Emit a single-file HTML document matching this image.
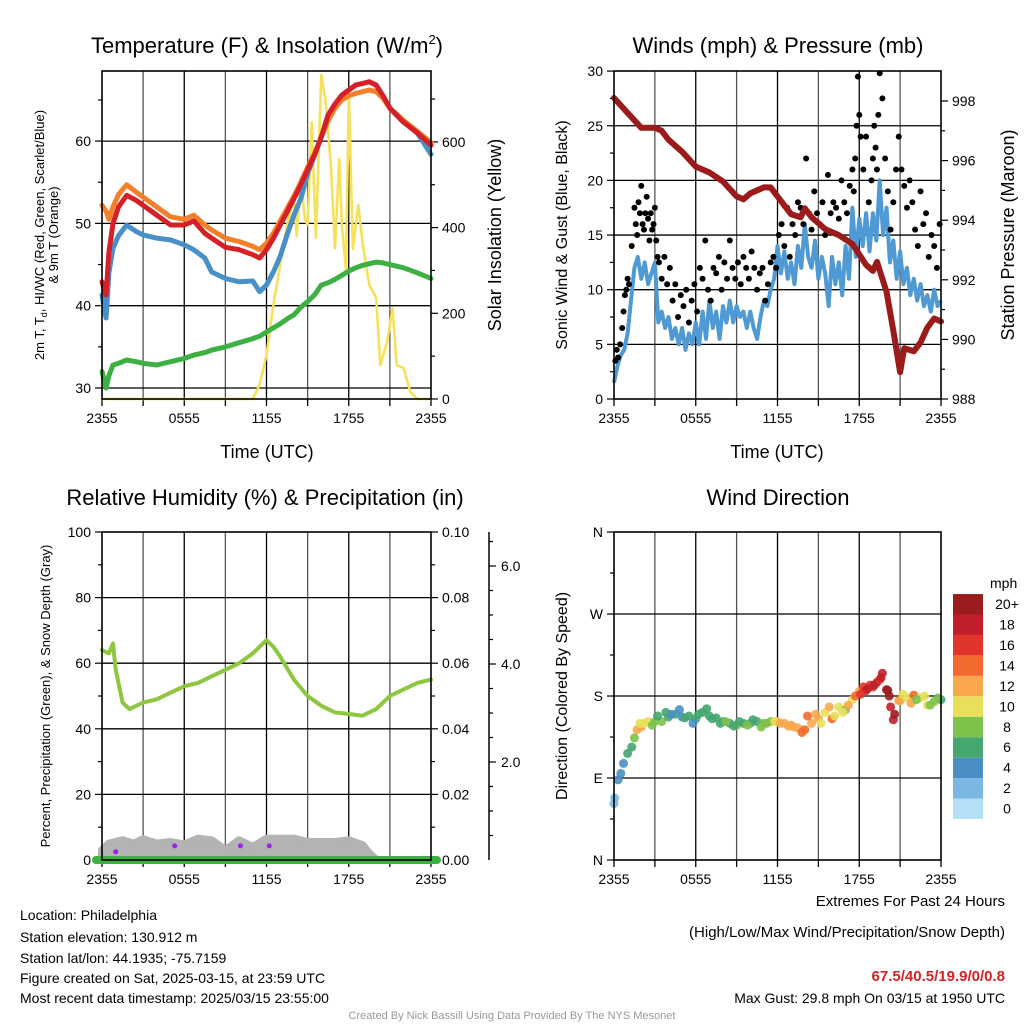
<!DOCTYPE html>
<html><head><meta charset="utf-8"><style>
body{margin:0;background:#fff}
svg{display:block;font-family:"Liberation Sans",sans-serif}
</style></head><body>
<svg id="chart" width="1024" height="1024" viewBox="0 0 1024 1024">
<rect width="1024" height="1024" fill="#fff"/>
<g id="layers"></g>
<g font-size="22" text-anchor="middle" fill="#000">
<text x="267" y="53">Temperature (F) &amp; Insolation (W/m<tspan font-size="13" dy="-9">2</tspan><tspan dy="9">)</tspan></text>
<text x="778" y="53">Winds (mph) &amp; Pressure (mb)</text>
<text x="265" y="505">Relative Humidity (%) &amp; Precipitation (in)</text>
<text x="778" y="505">Wind Direction</text>
</g>
<g font-size="18" text-anchor="middle">
<text x="267" y="458">Time (UTC)</text>
<text x="777" y="458">Time (UTC)</text>
<text transform="translate(501,235) rotate(-90)">Solar Insolation (Yellow)</text>
<text transform="translate(1014,235) rotate(-90)">Station Pressure (Maroon)</text>
</g>
<text transform="translate(567,235) rotate(-90)" font-size="16" text-anchor="middle">Sonic Wind &amp; Gust (Blue, Black)</text>
<text transform="translate(567,696) rotate(-90)" font-size="16" text-anchor="middle">Direction (Colored By Speed)</text>
<text transform="translate(44,235) rotate(-90)" font-size="13" text-anchor="middle">2m T, T<tspan font-size="9" dy="3">d</tspan><tspan dy="-3">, HI/WC (Red, Green, Scarlet/Blue)</tspan></text>
<text transform="translate(58,235) rotate(-90)" font-size="13" text-anchor="middle">&amp; 9m T (Orange)</text>
<text transform="translate(50,696) rotate(-90)" font-size="13" text-anchor="middle">Percent, Precipitation (Green), &amp; Snow Depth (Gray)</text>
<text x="990" y="588" font-size="14" text-anchor="start">mph</text>
<g font-size="14">
<text x="20" y="920">Location: Philadelphia</text>
<text x="20" y="942">Station elevation: 130.912 m</text>
<text x="20" y="963">Station lat/lon: 44.1935; -75.7159</text>
<text x="20" y="983">Figure created on Sat, 2025-03-15, at 23:59 UTC</text>
<text x="20" y="1003">Most recent data timestamp: 2025/03/15 23:55:00</text>
</g>
<g font-size="15" text-anchor="end">
<text x="1005" y="906">Extremes For Past 24 Hours</text>
<text x="1005" y="937">(High/Low/Max Wind/Precipitation/Snow Depth)</text>
<text x="1005" y="981" fill="#d62222" font-weight="bold">67.5/40.5/19.9/0/0.8</text>
<text x="1005" y="1003" font-size="14">Max Gust: 29.8 mph On 03/15 at 1950 UTC</text>
</g>
<text x="512" y="1019" font-size="11" fill="#999" text-anchor="middle">Created By Nick Bassill Using Data Provided By The NYS Mesonet</text>
</svg>
<script>
// ---- Temperature panel data (hours since 2355) ----
const tHours=[0,0.3,0.5,0.8,1.2,1.8,2.5,3,4,5,6,6.7,7.5,8,9,10,11,11.5,12,12.5,13,13.5,14,14.5,15,15.5,16,16.5,17,17.5,18,18.5,19,19.5,20,20.5,21,22,23,24];
const tempRed=[42.9,41.3,46.5,50,52,53.4,52.8,52.2,51,49.8,49.8,50.3,48.8,48.2,47.1,46.8,46.2,45.8,46.8,48.2,49.8,51.4,53,54.7,56.5,58.3,60.5,63.2,64.5,65.6,66.2,66.8,67,67.2,66.8,65.5,64,62.3,61,59.5];
const tempOrange=[52.2,51.5,50.5,52,53.5,54.7,53.8,53.2,52,50.8,50.5,51,49.8,49.2,48.2,47.8,47.2,46.8,47.6,48.8,50.3,51.8,53.3,55,56.8,58.5,60.5,62.5,64,65,65.5,65.8,66,66.2,66,65.2,64,62.5,61.2,59.8];
const tempBlue=[41.3,38.5,44,47,48.5,49.8,49,48.6,48.2,48,47.4,46.8,45.8,44.1,43.3,42.9,43,41.7,42.5,44.1,46,48.6,51,53,56,58.3,60.5,63.2,64.5,65.6,66.2,66.8,67,67.2,66.8,65.5,64,62.3,61,58.4];
const dewGreen=[32,30,31.5,32.8,33,33.4,33.2,33,32.8,33.2,33.6,34,34.3,34.6,35,35.5,36,36.3,36.8,37.3,37.8,38.4,38.9,39.8,40.5,41.3,42.5,42.8,43.2,43.7,44.2,44.6,44.9,45.1,45.3,45.2,45,44.6,44,43.3];
const solarHours=[0,11,11.5,12,12.5,13,13.5,14,14.2,14.5,14.8,15,15.3,15.6,16,16.3,16.7,17,17.3,17.5,17.8,18,18.3,18.7,19,19.5,20,20.3,20.8,21.2,21.5,22,22.5,23,24];
const solarVals=[0,0,33,103,220,313,406,470,380,516,420,406,646,376,756,700,546,352,560,406,300,716,350,453,366,266,236,79,133,212,79,72,16,0,0];
// ---- Wind panel data ----
const presHours=[0,1,2,3,3.5,4,5,6,7,8,9,9.5,10,11,11.5,12,13,13.7,14,14.5,15.5,16.5,17.5,18.5,19,19.3,20,20.5,21,21.3,22,22.5,23,23.5,24];
const presVals=[998.1,997.6,997.1,997.1,997,996.7,996.3,995.8,995.6,995.3,994.8,994.7,994.9,995.1,995.1,994.8,994.2,994.1,994.4,994.1,993.7,993.5,993.2,992.5,992.3,992.6,991.6,990.3,988.9,989.7,989.6,989.9,990.4,990.7,990.6];
const windHours=Array.from({length:97},(_,i)=>i*0.25);
const windVals=[1.5,3,4,4.5,6,9,12,13,11,12.5,10.5,11.5,12.5,7,8,6.5,7.5,5.5,6.5,5,6.5,4.5,6,5,7,5,8,5.5,9,6.5,8,5.5,8.5,7,9,7,8.5,7.5,8,6.5,8,6.5,5.5,7.5,9,8.5,10,11,14,11.5,13.5,11,12.5,10.5,14,12,16,13,12,14.5,11,13,11.5,8.5,13,10.5,12.5,9.5,14,11,17.5,13,16.5,14,17,13.5,17,14.5,20,15,17.5,12.5,14.5,11,13.5,10.5,12,9.5,11,9,10.5,8.5,9.5,8,10,8.5,9];
const gustHours=[0.1,0.2,0.3,0.45,0.6,0.7,0.8,0.9,1.0,1.1,1.3,1.5,1.6,1.7,1.8,1.9,2.0,2.1,2.2,2.3,2.4,2.5,2.6,2.7,2.8,2.9,3.0,3.1,3.2,3.3,3.5,3.7,3.9,4.1,4.3,4.5,4.7,4.9,5.1,5.3,5.5,5.7,5.9,6.1,6.3,6.5,6.7,6.9,7.1,7.3,7.5,7.7,7.9,8.1,8.3,8.5,8.7,8.9,9.1,9.3,9.5,9.7,9.9,10.1,10.3,10.5,10.7,10.9,11.1,11.3,11.5,11.7,11.9,12.1,12.3,12.5,12.7,12.9,13.1,13.3,13.5,13.7,13.9,14.1,14.3,14.5,14.7,14.9,15.1,15.3,15.5,15.7,15.9,16.1,16.3,16.5,16.7,16.9,17.1,17.3,17.5,17.6,17.7,17.8,17.9,18.0,18.1,18.3,18.5,18.7,18.9,19.0,19.1,19.2,19.3,19.4,19.5,19.7,19.9,20.1,20.3,20.5,20.7,20.9,21.1,21.3,21.5,21.7,21.9,22.1,22.3,22.5,22.7,22.9,23.1,23.3,23.5,23.7,23.9];
const gustVals=[3.5,4.5,3.8,5,6.5,8,9.5,10,11,10.5,14,17.5,16,15,18,17,19.5,16,15.5,17,18.5,16.5,14.5,17,15.5,16,17.5,14.5,13,12.5,11,13,10.5,12,9,10.5,7.5,9.5,8.5,10,7,9,10.5,8,12,11,14.5,10,9,12,11.5,13,10,12.5,11,14.5,12,11,12.5,10.5,13,12,11,13.5,12,10,11.5,12,9,10.5,12.5,13,12,15,16,14,17.5,13,16,15,18,17.5,16,22,17,15.5,19,17,16,18,15,20.5,17,18,17.5,16.5,20,18,17,19.5,21,19,22,25,29.5,26,24,21,24,18,20,22,25,23,21,26,29.8,27.5,22,19,15.5,18,21,24,21,19.5,17.5,20,18,15.5,14,19,16,17,13,15,14,12,16];
// ---- RH panel data ----
const rhHours=[0,0.5,0.8,1,1.5,2,3,4,5,6,7,8,9,10,11,11.5,12,12.5,13,14,15,16,17,18,19,20,21,22,23,24];
const rhVals=[64,63,66,58,48,46,48,49,51,53,54,56,58,60,63,65,67,65,62,55,50,47,45,44.5,44,46,50,52,54,55];
const snowHours=[0,0.5,1.5,2.3,3,4,5,6,7,8,9,10,10.5,11,12,14,15,17,18,19,19.5,20];
const snowVals=[3,5,6,5,6.3,5,5.5,4.7,6.5,6,3,6,5,4,6.5,6.5,5.5,5.5,6,4.5,2,0];
const precipHours=[1.0,5.3,10.1,12.2];
const precipVals=[2.5,4.3,4.3,4.3];
// ---- Direction panel data ----
const dirHours=[0,0.05,0.3,0.5,0.7,1,1.3,1.5,1.7,2,2.5,3,3.5,4,4.5,5,5.5,6,6.5,7,7.5,8,8.5,9,9.5,10,10.5,11,11.5,12,12.5,13,13.5,14,14.5,15,15.5,16,16.5,17,17.5,18,18.3,18.5,18.8,19,19.3,19.5,19.7,20,20.2,20.3,20.5,21,21.5,22,22.5,23,23.5,24,
1.9,2.2,2.8,3.2,3.8,4.2,4.8,5.2,5.8,6.2,6.8,7.2,7.8,8.2,8.8,9.2,9.8,10.2,10.8,11.2,11.8,12.2,12.8,13.2,13.8,14.2,14.8,15.2,15.8,16.2,16.8,17.2,17.7,18.1,18.6,19.1,19.6,20.1,20.6,20.9,21.2,21.8,22.2,22.8,23.2,23.8];
const dirVals=[62,68,88,95,106,117,124,134,143,146,152,152,152,157,160,157,158,155,162,158,156,152,150,148,150,150,152,150,152,152,150,148,145,143,150,155,162,155,168,165,176,185,190,186,192,190,195,198,205,187,180,168,154,175,178,181,178,170,174,176,
150,150,148,158,162,160,165,156,150,160,166,155,150,152,147,152,148,154,146,150,152,150,147,146,140,158,160,150,168,158,162,170,180,182,188,192,200,186,160,175,182,172,176,180,170,178];
const dirSpeeds=[2,2,4,4,4,6,7,8,12,12,10,8,8,6,6,5,6,6,6,6,7,7,6,8,7,6,7,8,9,12,13,12,13,15,13,12,10,14,11,9,11,12,16,18,17,17,19,16,18,20,20,19,18,12,10,14,10,10,8,7,
11,10,8,7,6,5,4,6,5,6,6,7,7,8,7,6,8,6,8,9,11,12,12,13,15,14,12,11,12,10,10,12,14,17,18,18,19,21,20,12,10,13,9,10,9,8];
const cbLabels=['0','2','4','6','8','10','12','14','16','18','20+'];
const cbColors=['#b3e0f7','#7ab8e3','#4a8fc4','#45a66f','#7dc24a','#e8e05a','#f8a84a','#f26a2d','#e0352b','#c0202a','#9b1c1f'];
const timeLabels=['2355','0555','1155','1755','2355'];

const NS='http://www.w3.org/2000/svg';
const root=document.getElementById('layers');
function mk(tag,attrs,parent){const e=document.createElementNS(NS,tag);for(const k in attrs)e.setAttribute(k,attrs[k]);(parent||root).appendChild(e);return e;}
function pathOf(xs,ys,fx,fy){return xs.map((h,i)=>(i?'L':'M')+fx(h).toFixed(1)+','+fy(ys[i]).toFixed(1)).join('');}

const x1=h=>102+h*329/24, yT=v=>388-(v-30)*8.23, yS=w=>399-w*0.4285;
const x2=h=>614+h*327/24, yW=v=>399-v*10.93, yP=p=>399-(p-988)*29.8;
const x3=h=>102+h*329/24, yR=v=>860-v*3.28;
const yD=d=>860-d*0.911;

function gridAndFrame(L,T,R,B,fx,yVals,fy,name){
  for(let h=3;h<24;h+=3){
    const g=mk('line',{x1:fx(h),x2:fx(h),y1:T,y2:B,stroke:(h%6?'#555':'#000'),'stroke-width':1.3});
    
    
  }
  yVals.forEach(v=>{
    const g=mk('line',{x1:L,x2:R,y1:fy(v),y2:fy(v),stroke:'#000','stroke-width':1.3});
    
    
  });
  for(let h=0;h<=24;h+=3){
    const t=mk('line',{x1:fx(h),x2:fx(h),y1:B,y2:B+7,stroke:'#000','stroke-width':1.3});
    
    
  }
  timeLabels.forEach((s,i)=>{
    const t=mk('text',{x:fx(i*6),y:B+24,'font-size':14,'text-anchor':'middle'});
    t.textContent=s;
    
    
  });
}
function frame(L,T,R,B,name){
  const f=mk('rect',{x:L,y:T,width:R-L,height:B-T,fill:'none',stroke:'#000','stroke-width':1.6});
  
  
}
function yTicks(vals,fy,x,dir,labelFn,name){
  vals.forEach(v=>{
    const lab=labelFn(v);
    const len=lab!==null?7:4;
    const t=mk('line',{x1:x,x2:x+dir*len,y1:fy(v),y2:fy(v),stroke:'#000','stroke-width':1.2});
    
    
    if(lab!==null){
      const tx=mk('text',{x:x+dir*11,y:fy(v)+5,'font-size':14,'text-anchor':dir<0?'end':'start'});
      tx.textContent=lab;
      
      
    }
  });
}

// ===== Panel 1 =====
gridAndFrame(102,71,431,399,x1,[30,40,50,60],yT,'temp');
yTicks([30,35,40,45,50,55,60,65],yT,102,-1,v=>v%10?null:String(v),'temp-y');
yTicks([0,100,200,300,400,500,600,700],yS,431,1,v=>v%200?null:String(v),'solar-y');
let p=mk('path',{d:pathOf(solarHours,solarVals,x1,yS),fill:'none',stroke:'#f7e15a','stroke-width':2.6,'stroke-linejoin':'round'});


p=mk('path',{d:pathOf(tHours,dewGreen,x1,yT),fill:'none',stroke:'#3cb043','stroke-width':5,'stroke-linejoin':'round','stroke-linecap':'round'});


p=mk('path',{d:pathOf(tHours,tempBlue,x1,yT),fill:'none',stroke:'#4a90c8','stroke-width':5,'stroke-linejoin':'round','stroke-linecap':'round'});


p=mk('path',{d:pathOf(tHours,tempOrange,x1,yT),fill:'none',stroke:'#f4802a','stroke-width':5,'stroke-linejoin':'round','stroke-linecap':'round'});


p=mk('path',{d:pathOf(tHours,tempRed,x1,yT),fill:'none',stroke:'#d62027','stroke-width':5,'stroke-linejoin':'round','stroke-linecap':'round'});


frame(102,71,431,399,'temp');

// ===== Panel 2 =====
gridAndFrame(614,71,941,399,x2,[5,10,15,20,25],yW,'wind');
yTicks([0,2.5,5,7.5,10,12.5,15,17.5,20,22.5,25,27.5,30],yW,614,-1,v=>v%5?null:String(v),'wind-y');
yTicks([988,989,990,991,992,993,994,995,996,997,998],yP,941,1,v=>v%2?null:String(v),'pressure-y');
p=mk('path',{d:pathOf(windHours,windVals,x2,yW),fill:'none',stroke:'#4f9ad4','stroke-width':4,'stroke-linejoin':'round'});


gustHours.forEach((h,i)=>{
  const c=mk('circle',{cx:x2(h),cy:yW(gustVals[i]),r:3,fill:'#000'});
  
  
});
p=mk('path',{d:pathOf(presHours,presVals,x2,yP),fill:'none',stroke:'#9b1a1a','stroke-width':6,'stroke-linejoin':'round','stroke-linecap':'round'});


frame(614,71,941,399,'wind');

// ===== Panel 3 =====
gridAndFrame(102,532,431,860,x3,[20,40,60,80],yR,'rh');
yTicks([0,10,20,30,40,50,60,70,80,90,100],yR,102,-1,v=>v%20?null:String(v),'rh-y');
yTicks([0,10,20,30,40,50,60,70,80,90,100],yR,431,1,v=>v%20?null:(v/1000).toFixed(2),'precip-y');
const ax=mk('line',{x1:489,x2:489,y1:532,y2:860,stroke:'#000','stroke-width':1.5});


[0.5,1,1.5,2,2.5,3,3.5,4,4.5,5,5.5,6,6.5].forEach(v=>{
  const y=860-v*49;
  const major=(v%2===0);
  const t=mk('line',{x1:489,x2:489+(major?7:4),y1:y,y2:y,stroke:'#000','stroke-width':1.2});
  
  
  if(major){
    const tx=mk('text',{x:501,y:y+5,'font-size':14});
    tx.textContent=v.toFixed(1);
    
    
  }
});
const sd='M'+x3(0)+','+yR(0)+snowHours.map((h,i)=>'L'+x3(h).toFixed(1)+','+yR(snowVals[i]).toFixed(1)).join('')+'Z';
p=mk('path',{d:sd,fill:'#b3b3b3',stroke:'#b3b3b3','stroke-width':8,'stroke-linejoin':'round'});


p=mk('line',{x1:96,x2:437,y1:yR(0),y2:yR(0),stroke:'#3cb043','stroke-width':8,'stroke-linecap':'round'});


precipHours.forEach((h,i)=>{
  const c=mk('circle',{cx:x3(h),cy:yR(precipVals[i]),r:2.5,fill:'#a020f0'});
  
  
});
p=mk('path',{d:pathOf(rhHours,rhVals,x3,yR),fill:'none',stroke:'#8dc63f','stroke-width':4,'stroke-linejoin':'round','stroke-linecap':'round'});


frame(102,532,431,860,'rh');

// ===== Panel 4 =====
gridAndFrame(614,532,941,860,x2,[90,180,270],yD,'dir');
yTicks([0,45,90,135,180,225,270,315,360],yD,614,-1,v=>v%90?null:['N','E','S','W','N'][v/90],'dir-y');
function speedColor(s){return cbColors[Math.min(10,Math.floor(s/2))];}
dirHours.forEach((h,i)=>{
  const c=mk('circle',{cx:x2(h),cy:yD(dirVals[i]),r:4.5,fill:speedColor(dirSpeeds[i]),'fill-opacity':0.9});
  
  
});
frame(614,532,941,860,'dir');
cbColors.forEach((col,i)=>{
  const y=819-(i+1)*20.45;
  const r=mk('rect',{x:953,y:y,width:30,height:20.45,fill:col});
  
  
  const t=mk('text',{x:1007,y:y+15,'font-size':14,'text-anchor':'middle'});
  t.textContent=cbLabels[i];
  
  
});
</script>
</body></html>
